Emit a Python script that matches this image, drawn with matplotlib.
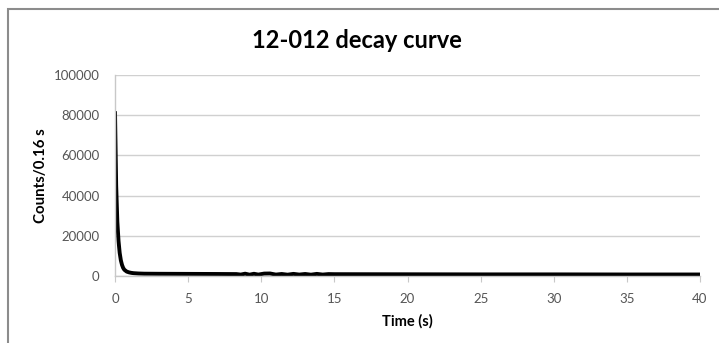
import matplotlib
matplotlib.use("Agg")
from matplotlib import pyplot as plt
from matplotlib.patches import Rectangle

# decay data: counts per 0.16 s bin
times = [0.0, 0.08, 0.16, 0.24, 0.32, 0.40, 0.48, 0.56, 0.64, 0.80, 0.96,
         1.12, 1.28, 1.60, 2.0, 3.0, 5.0, 7.0, 8.3, 8.6, 8.9, 9.2, 9.5,
         9.8, 10.2, 10.6, 11.0, 11.4, 11.8, 12.2, 12.6, 13.0, 13.4, 13.8,
         14.2, 14.6, 15.0, 20.0, 25.0, 30.0, 35.0, 40.0]
counts = [82000, 45000, 27000, 17500, 11500, 7800, 5500, 4000, 3100, 2200,
          1800, 1550, 1400, 1250, 1150, 1100, 1050, 1000, 950, 700, 1150,
          650, 1100, 700, 1200, 1250, 700, 1000, 650, 1050, 700, 1000, 650,
          1050, 700, 950, 900, 850, 800, 800, 750, 750]

x_ticks = [0, 5, 10, 15, 20, 25, 30, 35, 40]
y_ticks = [0, 20000, 40000, 60000, 80000, 100000]

plt.rcParams['font.family'] = ['Lato', 'DejaVu Sans']

fig = plt.figure(figsize=(7.19, 3.43), dpi=100)
fig.patches.append(Rectangle((8 / 719, -0.1), 1.2, 1 - 9 / 343 + 0.1,
                             transform=fig.transFigure, fill=False,
                             edgecolor='#8c8c8c', linewidth=1.5))

ax = fig.add_axes([115 / 719, 1 - 276 / 343, 585 / 719, 201 / 343])
ax.plot(times, counts, color='black', linewidth=2.8,
        solid_joinstyle='round', solid_capstyle='butt')

ax.set_xlim(0, 40)
ax.set_ylim(0, 100000)
ax.set_xticks(x_ticks)
ax.set_yticks(y_ticks)
ax.set_yticklabels([str(v) for v in y_ticks])
ax.grid(axis='y', color='#d0d0d0', linewidth=1)
ax.set_axisbelow(True)

for side in ['top', 'right']:
    ax.spines[side].set_visible(False)
for side in ['left', 'bottom']:
    ax.spines[side].set_color('#c8c8c8')
    ax.spines[side].set_linewidth(1)

ax.tick_params(axis='x', direction='out', length=4, color='#c8c8c8',
               labelsize=9.5, labelcolor='#555555', pad=8)
ax.tick_params(axis='y', length=0, labelsize=9.5, labelcolor='#555555',
               pad=11)

ax.set_xlabel('Time (s)', fontsize=10.5, fontweight='bold', va='center')
ax.xaxis.set_label_coords(0.5, -0.224)
ax.set_ylabel('Counts/0.16 s', fontsize=10.8, fontweight='bold', va='center')
ax.yaxis.set_label_coords(-0.1265, 0.5)
fig.text(357 / 719, 1 - 40 / 343, '12-012 decay curve', fontsize=17,
         fontweight='bold', ha='center', va='center')

fig.savefig('out.png', dpi=100, facecolor='white')
